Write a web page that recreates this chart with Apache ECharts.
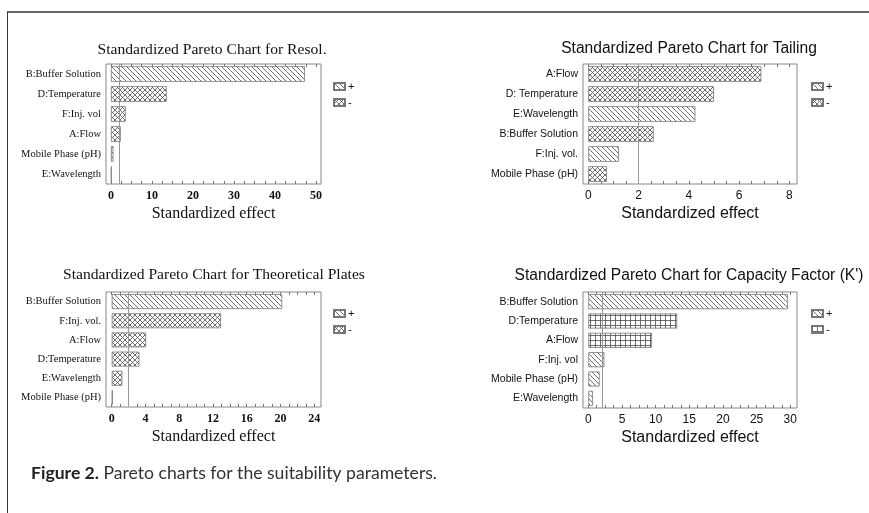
<!DOCTYPE html>
<html><head><meta charset="utf-8">
<script src="https://cdn.jsdelivr.net/npm/echarts@6/dist/echarts.min.js"></script>
<style>html,body{margin:0;padding:0;background:#fff}#c{width:869px;height:513px}</style>
</head><body><div id="c"></div>
<script>
// ---- data ----
const resolCategories = ['B:Buffer Solution','D:Temperature','F:Inj. vol','A:Flow','Mobile Phase (pH)','E:Wavelength'];
const resolEffects = [47.3, 13.6, 3.6, 2.4, 0.6, 0.15];
const resolSigns = ['+','-','-','-','-','+'];

const tailingCategories = ['A:Flow','D: Temperature','E:Wavelength','B:Buffer Solution','F:Inj. vol.','Mobile Phase (pH)'];
const tailingEffects = [6.88, 5.0, 4.26, 2.6, 1.22, 0.74];
const tailingSigns = ['-','-','+','-','+','-'];

const platesCategories = ['B:Buffer Solution','F:Inj. vol.','A:Flow','D:Temperature','E:Wavelength','Mobile Phase (pH)'];
const platesEffects = [20.2, 12.95, 4.07, 3.28, 1.26, 0.12];
const platesSigns = ['+','-','-','-','-','+'];

const capacityCategories = ['B:Buffer Solution','D:Temperature','A:Flow','F:Inj. vol','Mobile Phase (pH)','E:Wavelength'];
const capacityEffects = [29.66, 13.2, 9.46, 2.38, 1.68, 0.7];
const capacitySigns = ['+','-','-','+','+','+'];

const resolTicks = [0,10,20,30,40,50];
const tailingTicks = [0,2,4,6,8];
const platesTicks = [0,4,8,12,16,20,24];
const capacityTicks = [0,5,10,15,20,25,30];
const criticalValue = 2;

// ---- patterns ----
function pattern(kind){
  const s = 5;
  const c = document.createElement('canvas'); c.width = s; c.height = s;
  const g = c.getContext('2d');
  g.fillStyle = '#fff'; g.fillRect(0,0,s,s);
  g.strokeStyle = '#555'; g.lineWidth = 0.85;
  g.beginPath();
  if (kind === 'diag' || kind === 'cross') {
    g.moveTo(-1,-1); g.lineTo(s+1,s+1);
  }
  if (kind === 'cross') {
    g.moveTo(s+1,-1); g.lineTo(-1,s+1);
  }
  if (kind === 'grid') {
    g.moveTo(0.5,0); g.lineTo(0.5,s);
    g.moveTo(0,0.5); g.lineTo(s,0.5);
  }
  g.stroke();
  return {image: c, repeat: 'repeat'};
}
const diagP = pattern('diag'), crossP = pattern('cross'), gridP = pattern('grid');

const charts = [
  {cats: resolCategories, vals: resolEffects, signs: resolSigns, ticks: resolTicks, min: -1.2, max: 51.2, minor: 2.5,
   grid: {left: 106, top: 64, width: 215, height: 120}, font: 'Liberation Serif', neg: crossP,
   title: 'Standardized Pareto Chart for Resol.', tx: 212, ty: 50, ny: 210, leg: [328, 76]},
  {cats: tailingCategories, vals: tailingEffects, signs: tailingSigns, ticks: tailingTicks, min: -0.21, max: 8.3, minor: 0.5,
   grid: {left: 583, top: 64, width: 214, height: 120}, font: 'Liberation Sans', neg: crossP,
   title: 'Standardized Pareto Chart for Tailing', tx: 689, ty: 49, ny: 210, leg: [806, 76]},
  {cats: platesCategories, vals: platesEffects, signs: platesSigns, ticks: platesTicks, min: -0.68, max: 24.8, minor: 1,
   grid: {left: 106, top: 292, width: 215, height: 115}, font: 'Liberation Serif', neg: crossP,
   title: 'Standardized Pareto Chart for Theoretical Plates', tx: 214, ty: 275, ny: 436, leg: [328, 303]},
  {cats: capacityCategories, vals: capacityEffects, signs: capacitySigns, ticks: capacityTicks, min: -0.79, max: 31.0, minor: 1.25,
   grid: {left: 583, top: 292, width: 214, height: 116}, font: 'Liberation Sans', neg: gridP,
   title: 'Standardized Pareto Chart for Capacity Factor (K\')', tx: 689, ty: 276, ny: 437, leg: [806, 303]}
];

const option = {animation: false, grid: [], xAxis: [], yAxis: [], series: [], legend: [], graphic: []};

charts.forEach((ch, i) => {
  option.grid.push(Object.assign({show: true, borderColor: '#888', borderWidth: 1, containLabel: false}, ch.grid));
  const minorTicks = [];
  for (let v = 0; v <= ch.max + 1e-9; v += ch.minor) minorTicks.push(+v.toFixed(3));
  option.xAxis.push({
    gridIndex: i, type: 'value', min: ch.min, max: ch.max, position: 'bottom',
    axisLine: {show: false}, splitLine: {show: false},
    axisTick: {show: true, inside: true, length: 3, customValues: minorTicks, lineStyle: {color: '#777'}},
    axisLabel: {customValues: ch.ticks, fontFamily: ch.font, fontSize: 12, color: '#111', margin: 6,
                fontWeight: ch.font === 'Liberation Sans' ? 'normal' : 'bold'},
    name: 'Standardized effect', nameLocation: 'middle', nameGap: 22,
    nameTextStyle: {fontFamily: ch.font, fontSize: 16, color: '#111'}
  });
  option.xAxis.push({
    gridIndex: i, type: 'value', min: ch.min, max: ch.max, position: 'top',
    axisLine: {show: false}, splitLine: {show: false},
    axisTick: {show: true, inside: true, length: 3, customValues: minorTicks, lineStyle: {color: '#777'}},
    axisLabel: {show: false}
  });
  option.yAxis.push({
    gridIndex: i, type: 'category', data: ch.cats, inverse: true,
    axisLine: {show: false}, axisTick: {show: false}, splitLine: {show: false},
    axisLabel: {fontFamily: ch.font, fontSize: ch.font === 'Liberation Sans' ? 10.5 : 10.5, color: '#111', margin: 5}
  });
  const plus = ch.vals.map((v, k) => ch.signs[k] === '+' ? v : '-');
  const minus = ch.vals.map((v, k) => ch.signs[k] === '-' ? v : '-');
  const base = {type: 'bar', xAxisIndex: 2 * i, yAxisIndex: i, stack: 's' + i, barWidth: '78%'};
  option.series.push(Object.assign({}, base, {
    name: 'p' + i, data: plus,
    itemStyle: {color: diagP, borderColor: '#777', borderWidth: 0.8},
    markLine: {silent: true, symbol: ['none','none'], label: {show: false},
               lineStyle: {color: '#999', width: 1, type: 'solid'}, data: [{xAxis: criticalValue}]}
  }));
  option.series.push(Object.assign({}, base, {
    name: 'n' + i, data: minus,
    itemStyle: {color: ch.neg, borderColor: '#777', borderWidth: 0.8}
  }));
  option.legend.push({
    data: ['p' + i, 'n' + i], orient: 'vertical', left: ch.leg[0], top: ch.leg[1],
    itemWidth: 11, itemHeight: 7, itemGap: 5, icon: 'rect', selectedMode: false,
    formatter: n => n[0] === 'p' ? '+' : '-',
    textStyle: {fontSize: 11, color: '#111', fontFamily: 'Liberation Sans', padding: [0,0,0,-2]}
  });
  option.graphic.push({type: 'text', x: ch.tx, y: ch.ty,
    style: {text: ch.title, fontFamily: ch.font, fontSize: 15.6, fill: '#111', textAlign: 'center', textVerticalAlign: 'middle'}});
});

// frame & caption
option.graphic.push({type: 'line', shape: {x1: 7, y1: 12, x2: 869, y2: 12}, style: {stroke: '#666', lineWidth: 2}});
option.graphic.push({type: 'line', shape: {x1: 7.5, y1: 12, x2: 7.5, y2: 513}, style: {stroke: '#333', lineWidth: 1}});
option.graphic.push({type: 'text', x: 31, y: 473,
  style: {text: '{b|Figure 2.} Pareto charts for the suitability parameters.', fontFamily: 'Lato', fontSize: 17.6, fill: '#333',
          textVerticalAlign: 'middle', rich: {b: {fontFamily: 'Lato', fontWeight: 'bold', fontSize: 17.6, fill: '#222'}}}});

echarts.init(document.getElementById('c'), null, {renderer: 'canvas'}).setOption(option);
</script></body></html>
